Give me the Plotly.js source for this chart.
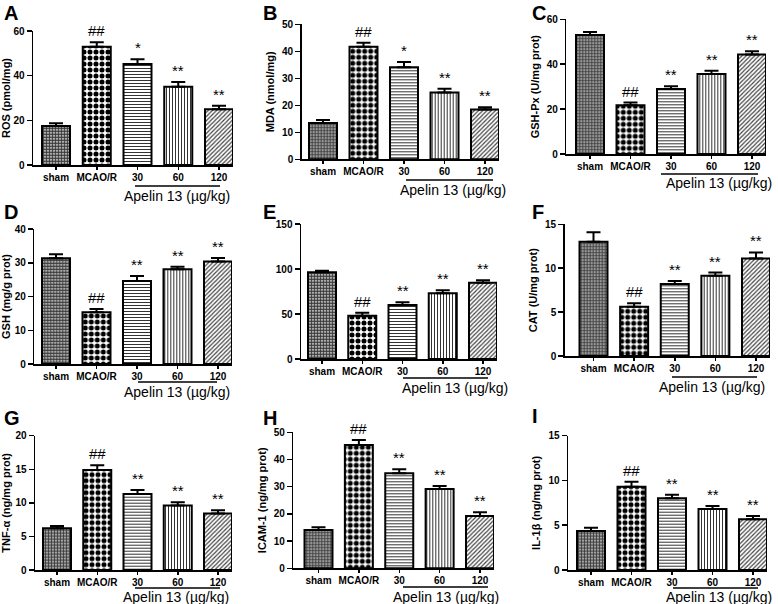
<!DOCTYPE html>
<html><head><meta charset="utf-8">
<script src="https://cdn.plot.ly/plotly-3.0.1.min.js"></script>
<style>html,body{margin:0;padding:0;background:#fff}#c{width:778px;height:604px}</style>
</head><body><div id="c"></div>
<script>
// ---- data ----
var groups = ["sham", "MCAO/R", "30", "60", "120"];
var rosVals = [17.5, 53, 45.2, 35, 25];       var rosErr = [1.2, 2, 2.2, 2.2, 1.5];
var mdaVals = [13.4, 41.7, 34.1, 24.7, 18.4];  var mdaErr = [1.2, 1.5, 1.9, 1.4, 0.9];
var gshpxVals = [53, 21.7, 29, 35.6, 44.3];    var gshpxErr = [1.3, 1.2, 1.2, 1.5, 1.5];
var gshVals = [31.3, 15.3, 24.6, 28.1, 30.4];  var gshErr = [1.2, 1.0, 1.5, 0.7, 1.0];
var eVals = [96.3, 48.1, 60, 73, 84.8];        var eErr = [1.7, 3.4, 3.0, 3.3, 2.6];
var catVals = [13.0, 5.6, 8.2, 9.15, 11.1];    var catErr = [1.1, 0.4, 0.35, 0.35, 0.7];
var tnfVals = [6.2, 14.9, 11.3, 9.6, 8.4];     var tnfErr = [0.35, 0.7, 0.6, 0.5, 0.5];
var icamVals = [14.1, 45.3, 34.9, 29.2, 19.2]; var icamErr = [1.0, 1.9, 1.5, 1.1, 1.4];
var il1bVals = [4.36, 9.3, 8.0, 6.8, 5.66];    var il1bErr = [0.37, 0.57, 0.4, 0.35, 0.37];
var sigA = ["", "##", "*", "**", "**"];
var sigB = ["", "##", "**", "**", "**"];
var panelLetters = ["A","B","C","D","E","F","G","H","I"];
var yTitles = ["ROS (pmol/mg)", "MDA (nmol/mg)", "GSH-Px (U/mg prot)", "GSH (mg/g prot)", "",
               "CAT (U/mg prot)", "TNF-\u03b1 (ng/mg prot)", "ICAM-1 (ng/mg prot)", "IL-1\u03b2 (ng/mg prot)"];
var yMax = [60, 50, 60, 40, 150, 15, 20, 50, 15];
var yStep = [20, 10, 20, 10, 50, 5, 5, 10, 5];
var doseLabel = "Apelin 13 (\u00b5g/kg)";

var series = [
  [rosVals, rosErr, sigA], [mdaVals, mdaErr, sigA], [gshpxVals, gshpxErr, sigB],
  [gshVals, gshErr, sigB], [eVals, eErr, sigB], [catVals, catErr, sigB],
  [tnfVals, tnfErr, sigB], [icamVals, icamErr, sigB], [il1bVals, il1bErr, sigB]
];

// ---- layout geometry (pixels) ----
// [yAxisX, firstBarCenter, lastBarRight, zeroY, topY]
var geo = [
  [33, 56, 233, 165, 31], [301.7, 323, 499, 159.3, 24.3], [566.3, 590, 766, 154, 19.3],
  [34.3, 56, 232, 364, 229], [301, 322, 497, 359, 224], [564.7, 593.5, 770, 356, 224.3],
  [35, 57, 232, 570, 435.7], [293.3, 318.5, 494, 568.3, 432.3], [568, 591, 767, 570, 435.7]
];
// letter [x,y], underline [x0,x1,y], dose text [cx,cy]
var letterPos = [[2,0],[261,0],[530,0],[2,199],[261,199],[530,199],[2,405],[261,405],[530,403]];
var underline = [[135,220,186],[406,493,180],[661,758,174],[138,217,382],[403,488,378],[672,757,377],[135,220,588],[403,488,587],[673,758,588]];
var doseText = [[177,196],[453,190],[719,183],[177,392],[455,388],[712,387],[176,597],[446,597],[719,597]];

var W = 778, H = 604, halfBar = 14;
function px(x){return x/W;} function py(y){return 1 - y/H;}

var FONT = "Liberation Sans, Arial, sans-serif";
var patShapes = [".", ".", "-", "|", "/"];
var patSizes = [3, 6, 3, 3, 3];
var patSolid = [0.75, 0.55, 0.35, 0.35, 0.4];
var patColors = ["#3a3a3a", "#000", "#333", "#333", "#444"];

var data = [], layout = {
  width: W, height: H, margin: {l:0, r:0, t:0, b:0}, showlegend: false,
  paper_bgcolor: "#fff", plot_bgcolor: "rgba(0,0,0,0)",
  annotations: [], shapes: [], font: {family: FONT, color: "#000"}
};

for (var i = 0; i < 9; i++) {
  var g = geo[i];
  var c4 = g[2] - halfBar;
  var step = (c4 - g[1]) / 4;
  var lo = (g[0] - g[1]) / step, hi = 4 + halfBar / step;
  var sx = i === 0 ? "" : String(i + 1);
  var vals = series[i][0], errs = series[i][1], sig = series[i][2];
  data.push({
    type: "bar", x: [0,1,2,3,4], y: vals, xaxis: "x" + sx, yaxis: "y" + sx,
    width: 2 * halfBar / step,
    marker: {color: "#fff", line: {color: "#000", width: 2},
             pattern: {shape: patShapes, size: patSizes, solidity: patSolid, fgcolor: patColors, fillmode: "replace"}},
    error_y: {type: "data", symmetric: false, array: errs, arrayminus: [0,0,0,0,0],
              color: "#000", thickness: 2, width: 7},
    hoverinfo: "skip"
  });
  layout["xaxis" + sx] = {
    domain: [px(g[0]), px(g[2])], range: [lo, hi], anchor: "y" + sx,
    tickvals: [0,1,2,3,4], ticktext: groups, ticks: "outside", ticklen: 3, tickwidth: 1.5,
    tickcolor: "#000", showline: true, linewidth: 1.5, linecolor: "#000",
    showgrid: false, zeroline: false, fixedrange: true, ticklabelstandoff: -1,
    tickfont: {family: FONT, size: 10, weight: "bold", color: "#000"}
  };
  layout["yaxis" + sx] = {
    domain: [py(g[3]), py(g[4])], range: [0, yMax[i]], anchor: "x" + sx,
    dtick: yStep[i], tick0: 0, ticks: "outside", ticklen: 5, tickwidth: 1.5, tickcolor: "#000",
    showline: true, linewidth: 1.5, linecolor: "#000", showgrid: false, zeroline: false,
    tickfont: {family: FONT, size: 10, weight: "bold", color: "#000"},
    title: {text: yTitles[i], font: {family: FONT, size: 11, weight: "bold", color: "#000"}, standoff: 5}
  };
  for (var k = 0; k < 5; k++) {
    if (sig[k]) layout.annotations.push({
      xref: "x" + sx, yref: "y" + sx, x: k, y: vals[k] + errs[k], text: sig[k],
      showarrow: false, yanchor: "bottom", yshift: 1,
      font: {family: FONT, size: 15, color: "#000"}
    });
  }
  layout.annotations.push({
    xref: "paper", yref: "paper", x: px(letterPos[i][0]), y: py(letterPos[i][1]),
    xanchor: "left", yanchor: "top", text: panelLetters[i], showarrow: false,
    font: {family: FONT, size: 20, weight: "bold", color: "#000"}
  });
  layout.annotations.push({
    xref: "paper", yref: "paper", x: px(doseText[i][0]), y: py(doseText[i][1]),
    xanchor: "center", yanchor: "middle", text: doseLabel, showarrow: false,
    font: {family: FONT, size: 14, color: "#000"}
  });
  layout.shapes.push({
    type: "line", xref: "paper", yref: "paper",
    x0: px(underline[i][0]), x1: px(underline[i][1]), y0: py(underline[i][2]), y1: py(underline[i][2]),
    line: {color: "#000", width: 1.5}
  });
}

Plotly.newPlot("c", data, layout, {staticPlot: true, displayModeBar: false});
</script></body></html>
